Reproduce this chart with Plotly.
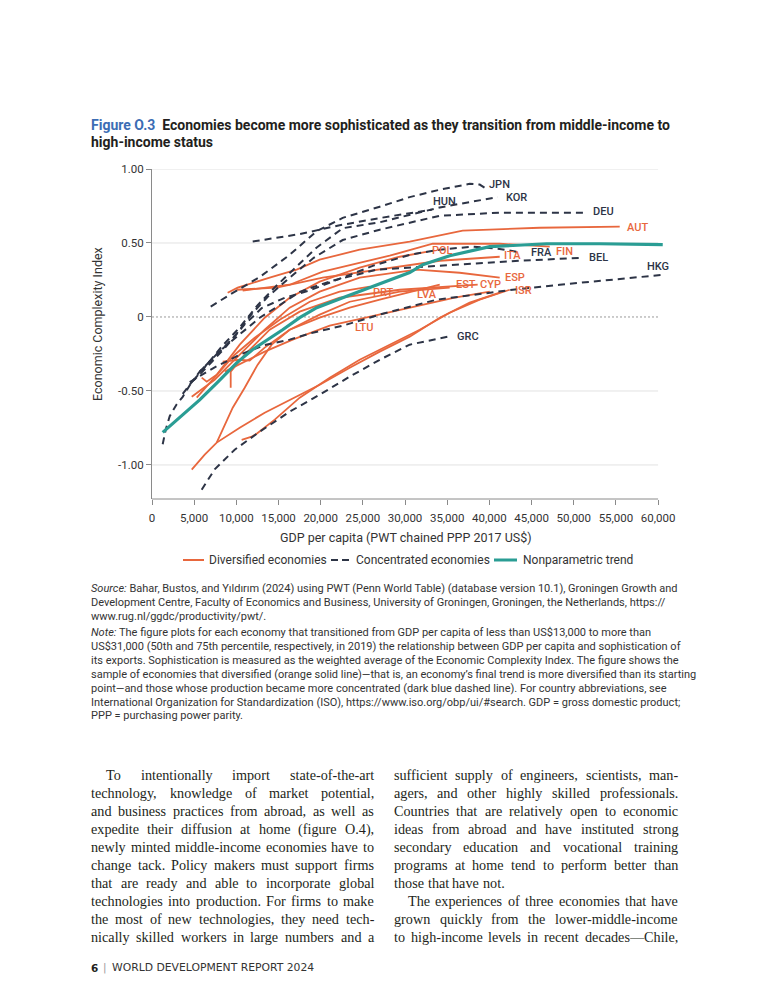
import plotly.graph_objects as go

# ---------------- data ----------------
# x: GDP per capita (PWT chained PPP 2017 US$), y: Economic Complexity Index
# Concentrated economies (dashed)
kor_gdp = [1270, 1630, 2100, 2930, 3640, 4710, 6250, 8260, 10400, 12530, 14550, 16920, 19530, 22610, 27000, 34110, 40980]
kor_eci = [-0.86, -0.76, -0.67, -0.59, -0.54, -0.44, -0.34, -0.20, -0.07, 0.08, 0.20, 0.33, 0.47, 0.60, 0.64, 0.74, 0.81]
jpn_gdp = [6960, 9210, 12770, 16320, 19530, 22610, 27000, 30550, 34110, 37660, 38850, 39800]
jpn_eci = [0.07, 0.15, 0.27, 0.42, 0.58, 0.67, 0.745, 0.81, 0.86, 0.90, 0.895, 0.86]
hun_gdp = [11940, 17510, 22250, 28180, 33160]
hun_eci = [0.51, 0.56, 0.62, 0.68, 0.725]
deu_gdp = [5650, 7430, 9800, 11820, 13720, 16320, 19170, 22610, 27000, 34110, 41220, 51300]
deu_eci = [-0.37, -0.27, -0.13, 0.02, 0.137, 0.266, 0.40, 0.52, 0.59, 0.684, 0.705, 0.705]
fra_gdp = [4710, 6490, 8620, 10990, 13010, 15730, 18700, 21900, 26400, 30550, 34110, 38020, 41220, 43240]
fra_eci = [-0.44, -0.34, -0.21, -0.05, 0.06, 0.13, 0.18, 0.25, 0.35, 0.42, 0.455, 0.475, 0.46, 0.44]
bel_gdp = [3640, 5650, 8030, 10400, 12770, 15140, 17510, 21070, 26640, 35290, 43590, 50940]
bel_eci = [-0.52, -0.37, -0.23, -0.12, -0.005, 0.08, 0.17, 0.24, 0.32, 0.35, 0.38, 0.40]
hkg_gdp = [4470, 7430, 10400, 13360, 16320, 19050, 22610, 27350, 33750, 42760, 48330, 60790]
hkg_eci = [-0.44, -0.34, -0.255, -0.19, -0.153, -0.106, -0.059, 0.022, 0.117, 0.184, 0.218, 0.286]
grc_gdp = [5890, 7430, 9800, 12770, 16320, 19880, 23440, 27000, 30550, 35060]
grc_eci = [-1.167, -1.03, -0.897, -0.775, -0.64, -0.525, -0.403, -0.289, -0.187, -0.133]

# Diversified economies (solid orange)
aut_gdp = [8970, 10160, 13950, 17150, 19880, 24620, 30550, 36830, 45960, 55450]
aut_eci = [0.164, 0.198, 0.266, 0.32, 0.387, 0.455, 0.509, 0.583, 0.603, 0.61]
ita_gdp = [10040, 14780, 20240, 28180, 34110, 41220]
ita_eci = [0.184, 0.198, 0.266, 0.333, 0.38, 0.407]
fin_gdp = [10750, 16320, 20240, 28180, 33280, 41220, 47150]
fin_eci = [0.178, 0.218, 0.306, 0.414, 0.495, 0.495, 0.475]
pol_gdp = [5890, 6490, 7670, 10400, 13360, 16320, 19880, 24620, 29360, 32690]
pol_eci = [-0.41, -0.437, -0.39, -0.187, -0.005, 0.13, 0.239, 0.333, 0.407, 0.441]
esp_gdp = [4710, 7430, 10400, 13360, 16320, 19880, 24620, 31380, 36480, 41220]
esp_eci = [-0.539, -0.424, -0.255, -0.086, 0.063, 0.171, 0.266, 0.32, 0.299, 0.266]
cyp_gdp = [9330, 9330, 10990, 13950, 17510, 22250, 29360, 38610]
cyp_eci = [-0.478, -0.369, -0.255, -0.086, 0.036, 0.13, 0.184, 0.218]
est_gdp = [8380, 10400, 11580, 13360, 16320, 19880, 23440, 29360, 35290]
est_eci = [-0.302, -0.289, -0.295, -0.207, -0.086, 0.016, 0.103, 0.171, 0.198]
prt_gdp = [5300, 7430, 9800, 12180, 15140, 18700, 22250, 25810]
prt_eci = [-0.545, -0.41, -0.255, -0.14, -0.018, 0.103, 0.171, 0.205]
lva_gdp = [7670, 8620, 9570, 10990, 12530, 14190, 16320, 19880, 23440, 27000, 31740, 34110]
lva_eci = [-0.849, -0.728, -0.613, -0.478, -0.322, -0.187, -0.086, -0.005, 0.063, 0.117, 0.184, 0.218]
isr_gdp = [10630, 11820, 12410, 14550, 17510, 21070, 24620, 28180, 31740, 35290, 38850, 42410]
isr_eci = [-0.83, -0.809, -0.789, -0.694, -0.545, -0.41, -0.289, -0.187, -0.086, 0.029, 0.117, 0.184]
ltu_gdp = [4710, 6250, 7670, 10400, 13360, 16320, 19880, 23440, 27000, 30550, 34110, 37660, 41220]
ltu_eci = [-1.032, -0.93, -0.849, -0.748, -0.647, -0.559, -0.458, -0.343, -0.234, -0.133, -0.005, 0.097, 0.164]
oth_gdp = [8620, 10990, 13360, 16680, 21070, 24270, 30550, 35880, 40040]
oth_eci = [-0.369, -0.302, -0.234, -0.153, -0.059, -0.018, 0.063, 0.131, 0.171]

# Nonparametric trend
trend_gdp = [1270, 3280, 5650, 7790, 10040, 11940, 12770, 15490, 17510, 19530, 22610, 25220, 27350, 30550,
             32090, 35290, 40040, 46790, 53080, 60550]
trend_eci = [-0.78, -0.68, -0.56, -0.44, -0.31, -0.22, -0.19, -0.086, -0.005, 0.063, 0.13, 0.184, 0.232, 0.30,
             0.353, 0.414, 0.475, 0.495, 0.495, 0.489]

# Country labels (text, x, y)
dashed_labels = [("JPN", 41220, 0.895), ("KOR", 43240, 0.806), ("HUN", 34700, 0.78), ("DEU", 53550, 0.711),
                 ("FRA", 46200, 0.434), ("BEL", 52960, 0.40), ("HKG", 59950, 0.34), ("GRC", 37430, -0.133)]
solid_labels = [("AUT", 57580, 0.603), ("POL", 34460, 0.448), ("ITA", 42760, 0.414), ("FIN", 48930, 0.441),
                ("ESP", 43000, 0.266), ("EST", 37190, 0.218), ("CYP", 40160, 0.218), ("ISR", 44070, 0.178),
                ("PRT", 27470, 0.164), ("LVA", 32570, 0.151), ("LTU", 25220, -0.072)]

x_ticks = [0, 5000, 10000, 15000, 20000, 25000, 30000, 35000, 40000, 45000, 50000, 55000, 60000]
x_ticktext = ["0", "5,000", "10,000", "15,000", "20,000", "25,000", "30,000", "35,000", "40,000",
              "45,000", "50,000", "55,000", "60,000"]
y_ticks = [-1.0, -0.5, 0, 0.5, 1.0]
y_ticktext = ["-1.00", "-0.50", "0", "0.50", "1.00"]

solid_series = [(aut_gdp, aut_eci), (ita_gdp, ita_eci), (fin_gdp, fin_eci), (pol_gdp, pol_eci),
                (esp_gdp, esp_eci), (cyp_gdp, cyp_eci), (est_gdp, est_eci), (prt_gdp, prt_eci),
                (lva_gdp, lva_eci), (isr_gdp, isr_eci), (ltu_gdp, ltu_eci), (oth_gdp, oth_eci)]
dashed_series = [(kor_gdp, kor_eci), (jpn_gdp, jpn_eci), (hun_gdp, hun_eci), (deu_gdp, deu_eci),
                 (fra_gdp, fra_eci), (bel_gdp, bel_eci), (hkg_gdp, hkg_eci), (grc_gdp, grc_eci)]

# ---------------- styling ----------------
ORANGE = "#E8673D"
NAVY = "#2D3446"
TEAL = "#2A9D94"
TXT = "#333333"
BLUE = "#3C6DB4"
FONT = "Roboto"

OFF = 8                      # the page body adds an 8 px margin around the figure
W, H = 768 - OFF, 1008 - OFF
L, T = 152 - OFF, 169 - OFF  # plot area: page px 152..671 (x), 169..499 (y)
R = W - (671 - OFF)
B = H - (499 - OFF)
PW, PH = W - L - R, H - T - B


def px2x(px):
    return (px - OFF - L) / PW


def py2y(py):
    return (H - B - (py - OFF)) / PH


fig = go.Figure()
for gx, gy in solid_series:
    fig.add_trace(go.Scatter(x=gx, y=gy, mode="lines", line=dict(color=ORANGE, width=1.8),
                             showlegend=False, hoverinfo="skip"))
for gx, gy in dashed_series:
    fig.add_trace(go.Scatter(x=gx, y=gy, mode="lines", line=dict(color=NAVY, width=2, dash="7px,5px"),
                             showlegend=False, hoverinfo="skip"))
fig.add_trace(go.Scatter(x=trend_gdp, y=trend_eci, mode="lines", line=dict(color=TEAL, width=3.2),
                         showlegend=False, hoverinfo="skip"))

shapes = []
for v in [-1.0, -0.5, 0.5, 1.0]:
    shapes.append(dict(type="line", xref="x", yref="y", x0=0, x1=60000, y0=v, y1=v,
                       line=dict(color="#E2E2E2", width=1), layer="below"))
shapes.append(dict(type="line", xref="x", yref="y", x0=0, x1=60000, y0=0, y1=0,
                   line=dict(color="#9A9A9A", width=1, dash="2px,2px"), layer="below"))
shapes.append(dict(type="line", xref="x", yref="paper", x0=0, x1=60000, y0=0, y1=0,
                   line=dict(color="#8A8A8A", width=1)))

annotations = []
for name, lx, ly in dashed_labels:
    annotations.append(dict(x=lx, y=ly, xref="x", yref="y", text=name, showarrow=False, borderpad=0,
                            font=dict(family=FONT, size=11, color=NAVY, weight=500)))
for name, lx, ly in solid_labels:
    annotations.append(dict(x=lx, y=ly, xref="x", yref="y", text=name, showarrow=False, borderpad=0,
                            font=dict(family=FONT, size=11, color=ORANGE, weight=500)))


def ann(px, py, text, size, color=TXT, family=FONT, xanchor="left", **kw):
    annotations.append(dict(x=px2x(px), y=py2y(py), xref="paper", yref="paper", text=text,
                            showarrow=False, xanchor=xanchor, yanchor="middle", borderpad=0,
                            font=dict(family=family, size=size, color=color), **kw))


# Title
ann(90, 125, "<b><span style='color:%s'>Figure O.3</span>  Economies become more sophisticated as they "
             "transition from middle-income to</b>" % BLUE, 14, color="#231F20")
ann(90, 142, "<b>high-income status</b>", 14, color="#231F20")

# axis titles
ann(97, 324, "Economic Complexity Index", 12.5, xanchor="center", textangle=-90)
ann(406, 537, "GDP per capita (PWT chained PPP 2017 US$)", 12.5, xanchor="center")

# legend
shapes.append(dict(type="line", xref="paper", yref="paper", x0=px2x(183), x1=px2x(204),
                   y0=py2y(560), y1=py2y(560), line=dict(color=ORANGE, width=2)))
shapes.append(dict(type="line", xref="paper", yref="paper", x0=px2x(331), x1=px2x(349),
                   y0=py2y(560), y1=py2y(560), line=dict(color=NAVY, width=2, dash="7px,4px")))
shapes.append(dict(type="line", xref="paper", yref="paper", x0=px2x(494), x1=px2x(517),
                   y0=py2y(560), y1=py2y(560), line=dict(color=TEAL, width=3)))
ann(208, 560, "Diversified economies", 12)
ann(355, 560, "Concentrated economies", 12)
ann(522, 560, "Nonparametric trend", 12)

# Source & note
notes = [
    "<i>Source:</i> Bahar, Bustos, and Yıldırım (2024) using PWT (Penn World Table) (database version 10.1), Groningen Growth and",
    "Development Centre, Faculty of Economics and Business, University of Groningen, Groningen, the Netherlands, https://",
    "www.rug.nl/ggdc/productivity/pwt/.",
    "<i>Note:</i> The figure plots for each economy that transitioned from GDP per capita of less than US$13,000 to more than",
    "US$31,000 (50th and 75th percentile, respectively, in 2019) the relationship between GDP per capita and sophistication of",
    "its exports. Sophistication is measured as the weighted average of the Economic Complexity Index. The figure shows the",
    "sample of economies that diversified (orange solid line)—that is, an economy’s final trend is more diversified than its starting",
    "point—and those whose production became more concentrated (dark blue dashed line). For country abbreviations, see",
    "International Organization for Standardization (ISO), https://www.iso.org/obp/ui/#search. GDP = gross domestic product;",
    "PPP = purchasing power parity.",
]
note_y = [588, 602, 616, 632, 646, 660, 674, 688, 702, 715]
for s, yy in zip(notes, note_y):
    ann(90, yy, s, 11)

# Body text (justified using Times/Liberation Serif metrics)
TIMES = {' ': 250, ',': 250, '.': 250, '-': 333, '(': 333, ')': 333, '—': 1000, '’': 333,
         'a': 444, 'b': 500, 'c': 444, 'd': 500, 'e': 444, 'f': 333, 'g': 500, 'h': 500, 'i': 278,
         'j': 278, 'k': 500, 'l': 278, 'm': 778, 'n': 500, 'o': 500, 'p': 500, 'q': 500, 'r': 333,
         's': 389, 't': 278, 'u': 500, 'v': 500, 'w': 722, 'x': 500, 'y': 500, 'z': 444,
         'A': 722, 'B': 667, 'C': 667, 'D': 722, 'E': 611, 'F': 556, 'G': 722, 'H': 722, 'I': 333,
         'L': 611, 'M': 889, 'N': 722, 'O': 722, 'P': 556, 'R': 667, 'S': 556, 'T': 611, 'W': 944}
BODY = 14.2
SERIF = "Liberation Serif"


def tw(s):
    return sum(TIMES.get(c, 500) for c in s) * BODY / 1000.0


def body_line(text, x0, x1, y, justify):
    words = text.split(" ")
    widths = [tw(w) for w in words]
    gap = (x1 - x0 - sum(widths)) / (len(words) - 1) if (justify and len(words) > 1) else 0.25 * BODY
    x = x0
    for w, wd in zip(words, widths):
        ann(x, y, w, BODY, color="#231F20", family=SERIF)
        x += wd + gap


left_col = [
    "To intentionally import state-of-the-art",
    "technology, knowledge of market potential,",
    "and business practices from abroad, as well as",
    "expedite their diffusion at home (figure O.4),",
    "newly minted middle-income economies have to",
    "change tack. Policy makers must support firms",
    "that are ready and able to incorporate global",
    "technologies into production. For firms to make",
    "the most of new technologies, they need tech-",
    "nically skilled workers in large numbers and a",
]
right_col = [
    "sufficient supply of engineers, scientists, man-",
    "agers, and other highly skilled professionals.",
    "Countries that are relatively open to economic",
    "ideas from abroad and have instituted strong",
    "secondary education and vocational training",
    "programs at home tend to perform better than",
    "those that have not.",
    "The experiences of three economies that have",
    "grown quickly from the lower-middle-income",
    "to high-income levels in recent decades—Chile,",
]
body_y = [775, 793, 811, 829, 847, 865, 883, 901, 919, 937]
for i, (s, yy) in enumerate(zip(left_col, body_y)):
    body_line(s, 90 + (15 if i == 0 else 0), 373, yy, True)
for i, (s, yy) in enumerate(zip(right_col, body_y)):
    body_line(s, 393 + (14 if i == 7 else 0), 677, yy, i != 6)

# footer
ann(90, 968, "<b>6</b>", 10.5, color="#231F20", family="DejaVu Sans")
ann(102, 968, "|", 10.5, color="#9A9A9A", family="DejaVu Sans")
ann(111, 968, "WORLD DEVELOPMENT REPORT 2024", 10.8, color="#333333", family="DejaVu Sans")

fig.update_layout(
    width=W, height=H, margin=dict(l=L, r=R, t=T, b=B, pad=0),
    paper_bgcolor="white", plot_bgcolor="white", showlegend=False,
    font=dict(family=FONT, color=TXT),
    xaxis=dict(range=[0, PW / 0.008435], tickvals=x_ticks, ticktext=x_ticktext, showgrid=False,
               zeroline=False, showline=False, ticks="outside", ticklen=5, tickcolor="#8A8A8A",
               tickfont=dict(family=FONT, size=11.5, color=TXT), ticklabelstandoff=3),
    yaxis=dict(range=[-1.23, 1.0], tickvals=y_ticks, ticktext=y_ticktext, showgrid=False,
               zeroline=False, showline=True, linecolor="#8A8A8A", linewidth=1, ticks="outside",
               ticklen=5, tickcolor="#8A8A8A", tickfont=dict(family=FONT, size=11.5, color=TXT)),
    shapes=shapes, annotations=annotations,
)

fig.write_html("out.html")
